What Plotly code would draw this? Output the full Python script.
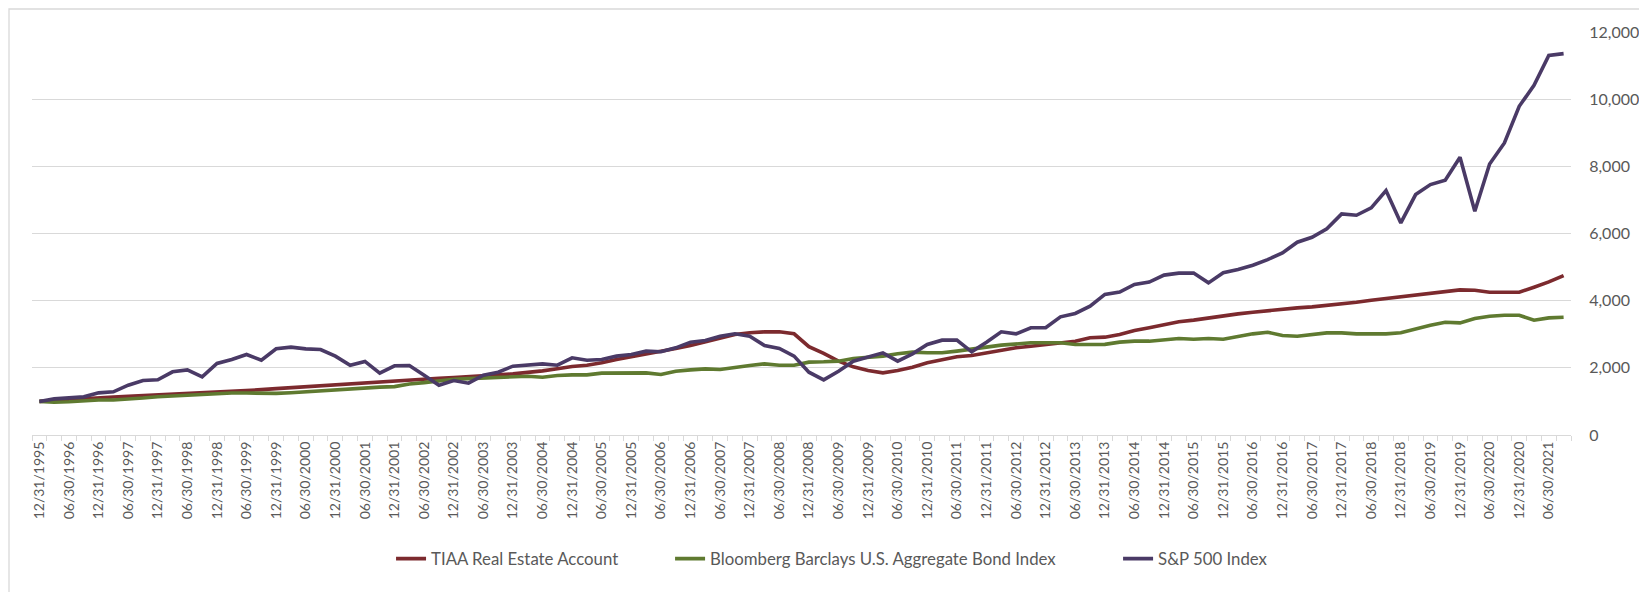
import plotly.graph_objects as go

# Quarterly dates 12/31/1995 .. 09/30/2021
quarter_ends = ["03/31", "06/30", "09/30", "12/31"]
dates = ["12/31/1995"]
for yr in range(1996, 2022):
    for q in quarter_ends:
        dates.append(f"{q}/{yr}")
dates = dates[:104]

tiaa = [1000, 1030, 1060, 1090, 1110, 1130, 1150, 1170, 1195, 1220, 1245, 1265, 1285, 1305, 1325, 1350,
        1380, 1410, 1440, 1470, 1500, 1530, 1560, 1590, 1610, 1630, 1660, 1690, 1710, 1730, 1760, 1790,
        1820, 1860, 1910, 1970, 2040, 2079, 2149, 2248, 2328, 2397, 2496, 2576, 2665, 2775, 2894, 2993,
        3043, 3072, 3072, 3013, 2630, 2430, 2200, 2030, 1921, 1851, 1921, 2020, 2149, 2248, 2328, 2367,
        2447, 2526, 2596, 2645, 2695, 2745, 2794, 2894, 2913, 2993, 3112, 3192, 3291, 3370, 3420, 3488,
        3550, 3607, 3657, 3706, 3736, 3786, 3815, 3855, 3915, 3954, 4014, 4063, 4113, 4163, 4212, 4282,
        4321, 4311, 4252, 4252, 4252, 4400, 4559, 4748]

bond = [1000, 980, 990, 1020, 1040, 1040, 1060, 1100, 1140, 1160, 1180, 1220, 1240, 1250, 1250, 1240,
        1240, 1260, 1290, 1320, 1350, 1380, 1410, 1425, 1440, 1520, 1560, 1610, 1660, 1680, 1700, 1720,
        1740, 1750, 1720, 1770, 1790, 1790, 1841, 1845, 1851, 1850, 1801, 1900, 1940, 1970, 1950, 2020,
        2070, 2119, 2079, 2079, 2169, 2179, 2199, 2278, 2318, 2348, 2417, 2467, 2447, 2447, 2497, 2546,
        2616, 2675, 2715, 2745, 2745, 2745, 2695, 2695, 2700, 2765, 2794, 2794, 2844, 2874, 2850, 2875,
        2850, 2942, 3012, 3061, 2962, 2942, 2992, 3042, 3042, 3012, 3012, 3012, 3042, 3161, 3270, 3359,
        3339, 3468, 3538, 3567, 3567, 3419, 3488, 3508]

sp500 = [1000, 1076, 1106, 1136, 1255, 1285, 1484, 1623, 1643, 1881, 1940, 1732, 2129, 2248, 2397, 2228,
         2566, 2616, 2566, 2546, 2348, 2075, 2190, 1840, 2060, 2070, 1780, 1484, 1623, 1543, 1782, 1871,
         2050, 2079, 2119, 2079, 2298, 2228, 2248, 2348, 2397, 2496, 2477, 2596, 2765, 2814, 2943, 3013,
         2943, 2665, 2576, 2348, 1870, 1640, 1900, 2199, 2318, 2447, 2199, 2417, 2695, 2824, 2824, 2477,
         2765, 3072, 3013, 3192, 3192, 3519, 3619, 3837, 4185, 4254, 4483, 4552, 4761, 4820, 4825, 4530,
         4830, 4926, 5055, 5224, 5422, 5740, 5889, 6140, 6583, 6543, 6762, 7277, 6315, 7158, 7456, 7585,
         8269, 6662, 8071, 8696, 9787, 10412, 11305, 11355]

series_names = ["TIAA Real Estate Account", "Bloomberg Barclays U.S. Aggregate Bond Index", "S&P 500 Index"]
series_colors = ["#7c2a2e", "#5f7a30", "#4a3a66"]
y_ticks = [0, 2000, 4000, 6000, 8000, 10000, 12000]

legend_ids = ["legend", "legend2", "legend3"]
legend_x = [0.2333, 0.4146, 0.7057]

fig = go.Figure()
for name, vals, col, lid in zip(series_names, [tiaa, bond, sp500], series_colors, legend_ids):
    fig.add_trace(go.Scatter(x=dates, y=vals, mode="lines", name=name, legend=lid,
                             line=dict(color=col, width=3.6), hoverinfo="x+y+name"))

ticktext = [d if i % 2 == 0 else "" for i, d in enumerate(dates)]

legend_common = dict(orientation="h", xanchor="left", y=-0.307, yanchor="middle",
                     font=dict(size=16.8, color="#595959"), bgcolor="rgba(0,0,0,0)")

fig.update_layout(
    width=1647, height=592,
    margin=dict(l=24, r=84, t=24, b=165),
    paper_bgcolor="white", plot_bgcolor="white",
    font=dict(family="Lato, Open Sans, sans-serif", color="#595959", size=15),
    showlegend=True,
    legend=dict(x=legend_x[0], **legend_common),
    legend2=dict(x=legend_x[1], **legend_common),
    legend3=dict(x=legend_x[2], **legend_common),
    xaxis=dict(type="category", tickmode="array", tickvals=dates, ticktext=ticktext,
               tickangle=-90, tickson="boundaries", ticks="outside", ticklen=5,
               tickcolor="#d9d9d9", showline=True, linecolor="#d9d9d9", linewidth=1.3,
               showgrid=False, zeroline=False, range=[-0.5, len(dates) - 0.5],
               tickfont=dict(size=14, color="#595959")),
    yaxis=dict(side="right", range=[0, 12000], tickmode="array", tickvals=y_ticks,
               tickformat=",d", showgrid=True, gridcolor="#d9d9d9", gridwidth=1.3,
               zeroline=False, showline=False, ticks="outside", ticklen=14,
               tickcolor="rgba(0,0,0,0)", tickfont=dict(size=16, color="#595959")),
)

fig.add_shape(type="rect", xref="paper", yref="paper", x0=-23/1539, x1=(1647-25)/1539,
              y0=-164/402.7, y1=1 + 23/402.7,
              line=dict(color="#d9d9d9", width=1.3), fillcolor="rgba(0,0,0,0)", layer="below")

fig.write_html("out.html")
